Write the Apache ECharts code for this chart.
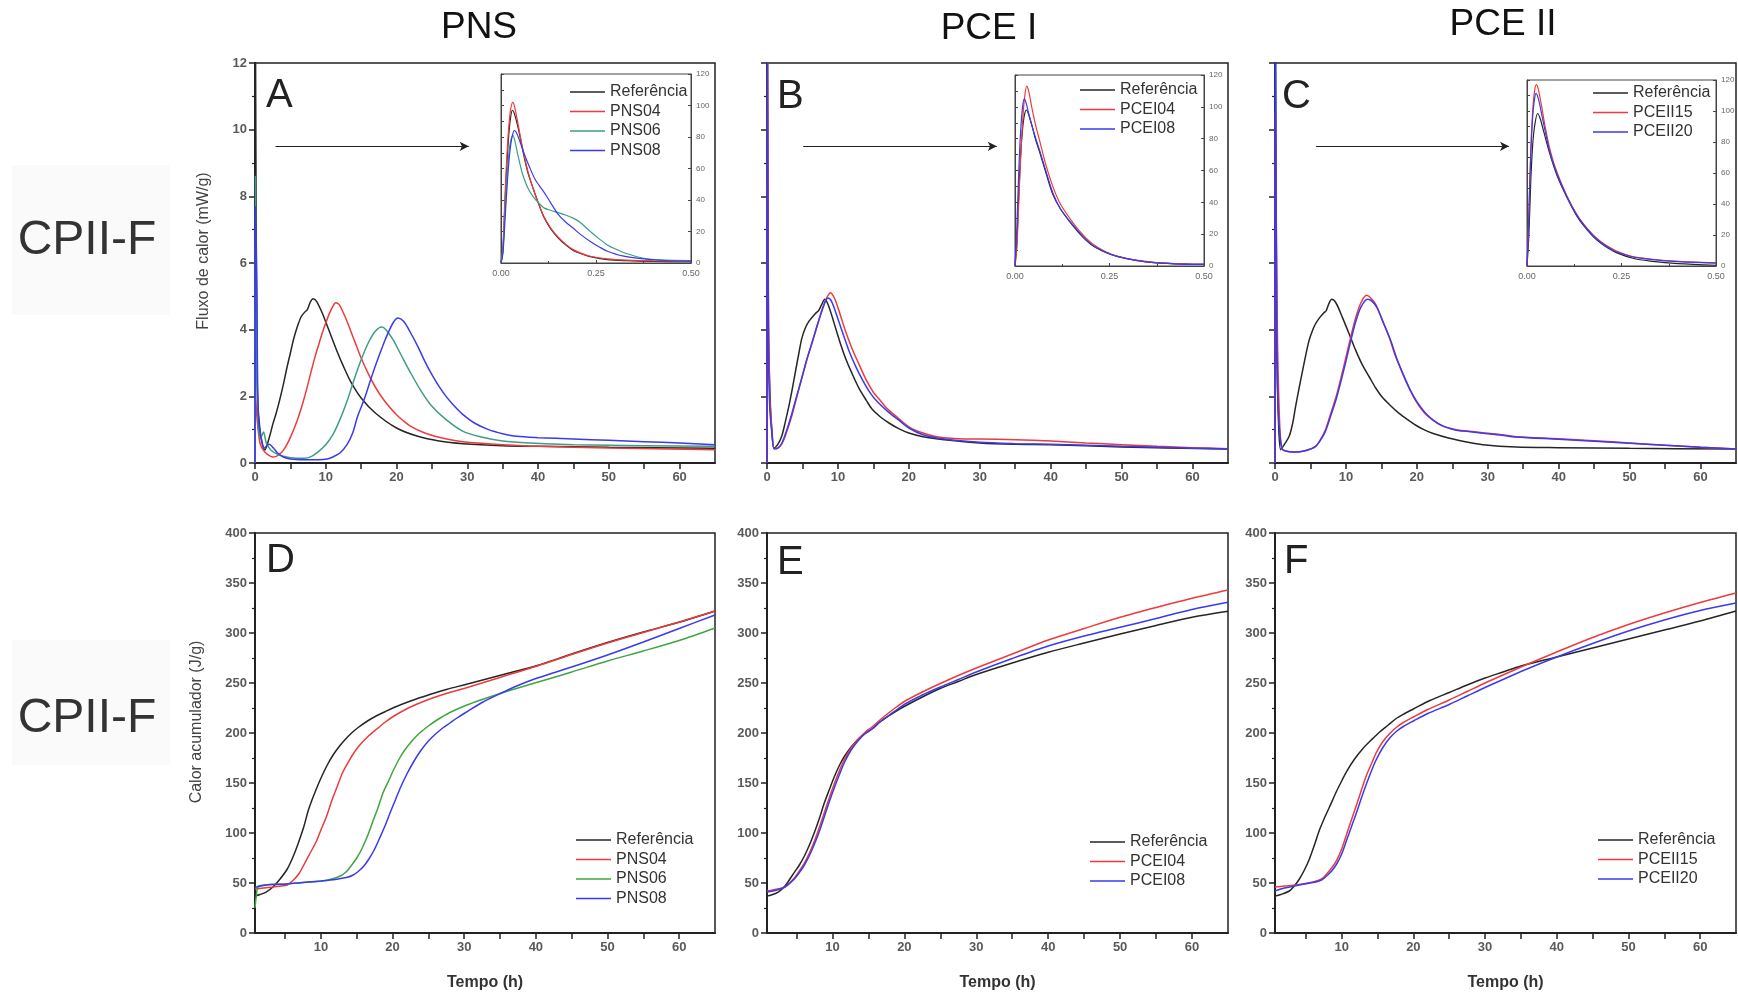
<!DOCTYPE html>
<html><head><meta charset="utf-8">
<script src="https://cdn.jsdelivr.net/npm/echarts@6/dist/echarts.min.js"></script>
<style>html,body{margin:0;padding:0;background:#fff}#c{width:1738px;height:998px}</style>
</head><body><div id="c"></div>
<script>
// ---------- Panel A: heat flow, PNS (t [h], mW/g) ----------
const A_ref   = [[0,0],[0.05,14],[0.3,2.5],[0.7,1.0],[1.4,0.39],[2,0.75],[2.5,1.15],[3,1.5],[3.5,1.9],[4,2.35],[4.5,2.85],[5,3.3],[5.5,3.75],[6,4.1],[6.5,4.38],[7,4.52],[7.4,4.6],[7.8,4.82],[8.2,4.93],[8.7,4.85],[9.5,4.5],[10.5,3.95],[11.5,3.4],[12.5,2.9],[13.5,2.45],[15,1.95],[17,1.5],[20,1.05],[23,0.8],[26,0.66],[29.4,0.58],[35,0.52],[40,0.5],[50,0.47],[65,0.44]];
const A_pns04 = [[0,0],[0.05,2.1],[0.3,1.3],[0.7,0.6],[1.2,0.38],[1.8,0.25],[2.5,0.18],[3,0.2],[3.5,0.27],[4,0.38],[4.5,0.55],[5,0.77],[5.5,1.02],[6,1.3],[6.5,1.62],[7,1.98],[7.5,2.38],[8,2.8],[8.5,3.2],[9,3.55],[9.5,3.9],[10,4.2],[10.5,4.48],[11,4.7],[11.4,4.81],[11.9,4.75],[12.5,4.5],[13,4.25],[14,3.7],[15,3.15],[16,2.68],[17,2.28],[18,1.95],[19,1.68],[20,1.45],[21,1.26],[22,1.1],[24,0.9],[26,0.77],[28,0.68],[30,0.62],[35,0.55],[40,0.5],[50,0.45],[65,0.4]];
const A_pns06 = [[0,0],[0.05,8.6],[0.25,3],[0.5,1.0],[0.8,0.75],[1.2,0.93],[1.6,0.6],[2.2,0.4],[3,0.28],[4,0.2],[5,0.16],[7,0.14],[8,0.2],[9,0.35],[10,0.55],[11,0.85],[12,1.3],[13,1.85],[14,2.5],[15,3.1],[16,3.6],[17,3.95],[17.9,4.08],[18.5,4.0],[19.5,3.7],[20.5,3.3],[22,2.7],[23.5,2.15],[25,1.7],[27,1.3],[29.4,0.95],[32,0.78],[35,0.66],[38.8,0.6],[45,0.55],[55,0.52],[65,0.5]];
const A_pns08 = [[0,0],[0.05,7.7],[0.25,5.3],[0.45,1.5],[0.8,0.8],[1.3,0.45],[2.0,0.56],[2.6,0.45],[3.2,0.3],[4,0.18],[5,0.12],[7,0.1],[9,0.1],[10.2,0.12],[11,0.18],[12,0.3],[13,0.55],[13.8,0.9],[14.5,1.4],[15.5,1.95],[16.5,2.6],[17.5,3.2],[18.5,3.75],[19.5,4.2],[20.2,4.35],[21,4.25],[22,3.9],[23,3.5],[24,3.05],[25,2.65],[26,2.3],[27,2.0],[28,1.75],[29.4,1.45],[31,1.2],[33,1.0],[35,0.88],[37,0.8],[40,0.76],[45,0.72],[50,0.68],[55,0.64],[60,0.6],[65,0.55]];
// inset A (0-0.5 h)
const Ai_ref   = [[0,0],[0.005,8],[0.01,35],[0.015,60],[0.02,80],[0.025,92],[0.03,97],[0.035,95],[0.045,86],[0.056,73],[0.07,58],[0.085,47],[0.1,37],[0.113,29],[0.13,22],[0.15,16],[0.17,11.5],[0.19,8],[0.21,6],[0.235,4],[0.28,2.2],[0.33,1.5],[0.4,1],[0.5,0.8]];
const Ai_pns04 = [[0,0],[0.005,10],[0.01,40],[0.015,66],[0.02,85],[0.025,97],[0.031,102],[0.036,99],[0.045,88],[0.056,74],[0.07,59],[0.085,47],[0.1,37],[0.113,29.5],[0.13,22.5],[0.15,16.5],[0.17,12],[0.19,8.5],[0.21,6.3],[0.235,4.3],[0.28,2.6],[0.33,1.8],[0.4,1.3],[0.5,1]];
const Ai_pns06 = [[0,0],[0.005,8],[0.01,30],[0.015,52],[0.02,68],[0.025,77],[0.031,81],[0.036,78],[0.045,68],[0.056,57],[0.07,48],[0.085,42],[0.1,38],[0.113,35],[0.13,33.5],[0.15,32],[0.17,30.5],[0.19,28.5],[0.207,26],[0.235,20],[0.26,15],[0.28,11.5],[0.3,9],[0.33,6],[0.376,3],[0.42,2],[0.5,1.5]];
const Ai_pns08 = [[0,0],[0.005,6],[0.01,25],[0.015,45],[0.02,62],[0.025,74],[0.03,81],[0.035,84],[0.04,83],[0.05,77],[0.06,70],[0.075,61],[0.09,53],[0.113,45],[0.13,38.5],[0.15,31],[0.17,26],[0.188,22.5],[0.21,18],[0.235,13.7],[0.26,10],[0.28,7.5],[0.32,4.5],[0.376,2.6],[0.43,1.6],[0.5,1.2]];

// ---------- Panel B: heat flow, PCE I ----------
const B_ref    = [[0,0],[0.05,14],[0.2,4],[0.4,2.2],[0.6,1.2],[1,0.44],[1.5,0.55],[2.1,0.82],[2.6,1.25],[3.1,1.72],[3.5,2.15],[4,2.73],[4.5,3.3],[4.9,3.73],[5.4,4.05],[5.9,4.25],[6.4,4.38],[6.8,4.48],[7.3,4.58],[7.7,4.75],[8.15,4.91],[8.7,4.7],[9.7,4.03],[10.4,3.55],[11.1,3.13],[12,2.68],[13,2.23],[14,1.88],[14.8,1.62],[16,1.38],[17.2,1.2],[18.5,1.04],[20,0.9],[22,0.79],[25,0.7],[30,0.6],[35,0.56],[40,0.55],[50,0.48],[65,0.42]];
const B_pcei04 = [[0,0],[0.05,14],[0.2,5],[0.4,2],[0.7,1.0],[1,0.44],[1.5,0.45],[2.1,0.57],[2.8,0.95],[3.5,1.42],[4.2,1.98],[4.9,2.53],[5.6,3.08],[6.4,3.63],[7.1,4.13],[7.8,4.63],[8.4,4.95],[8.95,5.11],[9.5,4.95],[10.1,4.6],[11,4.0],[12,3.43],[13,2.95],[13.9,2.53],[15,2.12],[15.8,1.92],[17,1.62],[18.1,1.42],[19.3,1.2],[20.5,1.02],[22,0.9],[23.3,0.82],[25,0.76],[27,0.73],[30,0.72],[35,0.7],[40,0.66],[45,0.6],[50,0.55],[55,0.5],[60,0.46],[65,0.43]];
const B_pcei08 = [[0,0],[0.05,13],[0.2,3.5],[0.4,1.6],[0.7,0.9],[1,0.42],[1.5,0.44],[2.1,0.6],[2.8,1.0],[3.5,1.48],[4.2,2.02],[4.9,2.55],[5.6,3.1],[6.4,3.65],[7.1,4.15],[7.8,4.6],[8.3,4.88],[8.6,4.95],[9.1,4.85],[9.8,4.45],[10.6,3.95],[11.5,3.4],[12.5,2.9],[13.5,2.48],[14.5,2.12],[15.5,1.85],[17,1.55],[18.5,1.3],[20,1.05],[22,0.85],[25,0.72],[30,0.62],[35,0.58],[40,0.56],[50,0.5],[65,0.42]];
const Bi_ref    = [[0,0],[0.005,15],[0.01,45],[0.015,70],[0.02,86],[0.025,95],[0.03,98],[0.035,96],[0.045,88],[0.055,79],[0.066,71],[0.08,60],[0.1,45],[0.12,36],[0.154,25],[0.18,18],[0.207,12.5],[0.24,8.5],[0.27,6],[0.32,3.5],[0.375,2],[0.45,1.2],[0.5,1]];
const Bi_pcei04 = [[0,0],[0.005,12],[0.01,40],[0.015,68],[0.02,90],[0.025,105],[0.031,113],[0.036,110],[0.045,99],[0.055,88],[0.066,78],[0.08,65],[0.1,50],[0.12,39],[0.154,27],[0.18,19.5],[0.207,13.5],[0.24,9],[0.27,6.3],[0.32,3.7],[0.375,2.2],[0.45,1.4],[0.5,1.2]];
const Bi_pcei08 = [[0,0],[0.005,25],[0.01,60],[0.015,85],[0.02,100],[0.025,105],[0.03,102],[0.036,96],[0.045,88],[0.055,80],[0.066,72],[0.08,61],[0.1,46],[0.12,36],[0.154,25.5],[0.18,18.5],[0.207,12.8],[0.24,8.6],[0.27,6],[0.32,3.5],[0.375,2],[0.45,1.2],[0.5,1]];

// ---------- Panel C: heat flow, PCE II ----------
const C_ref     = [[0,0],[0.05,14],[0.25,3.5],[0.5,1.2],[0.8,0.4],[1.3,0.55],[2,0.8],[2.5,1.2],[2.9,1.69],[3.4,2.25],[3.9,2.78],[4.3,3.2],[4.8,3.67],[5.3,3.98],[5.7,4.17],[6.3,4.36],[6.9,4.51],[7.2,4.56],[7.6,4.78],[8,4.91],[8.6,4.8],[9.5,4.37],[10.5,3.85],[11.4,3.37],[12.3,2.95],[13.3,2.58],[14.2,2.25],[15.1,1.98],[16.3,1.72],[17.5,1.49],[18.7,1.3],[19.8,1.14],[21,1.0],[22.2,0.89],[24.6,0.74],[27,0.63],[29.3,0.55],[34,0.48],[40,0.46],[50,0.44],[65,0.42]];
const C_pceii15 = [[0,0],[0.05,10.5],[0.3,4.4],[0.45,2.6],[0.7,1.0],[1,0.42],[1.5,0.36],[2.5,0.33],[3.5,0.34],[4.5,0.38],[5.7,0.5],[6.4,0.7],[7.1,0.99],[7.8,1.45],[8.6,1.98],[9.3,2.55],[10,3.17],[10.7,3.8],[11.4,4.37],[12.1,4.8],[12.9,5.03],[13.5,4.95],[14.2,4.76],[15.1,4.3],[16.1,3.77],[17,3.2],[18,2.68],[18.9,2.25],[19.8,1.88],[21,1.52],[22.2,1.29],[23.4,1.13],[24.6,1.04],[26,0.98],[27,0.96],[29.3,0.91],[32,0.85],[34,0.79],[40,0.73],[45,0.67],[50,0.6],[55,0.53],[60,0.47],[65,0.42]];
const C_pceii20 = [[0,0],[0.04,14],[0.25,4],[0.45,1.6],[0.7,0.8],[1,0.42],[1.5,0.36],[2.5,0.33],[3.5,0.34],[4.5,0.38],[5.7,0.49],[6.4,0.68],[7.1,0.95],[7.8,1.38],[8.6,1.9],[9.3,2.45],[10,3.05],[10.7,3.68],[11.4,4.25],[12.1,4.67],[13.05,4.91],[13.7,4.85],[14.4,4.65],[15.3,4.2],[16.3,3.68],[17.2,3.12],[18.2,2.6],[19.1,2.18],[20,1.84],[21.2,1.5],[22.4,1.27],[23.6,1.12],[24.8,1.03],[26,0.97],[27,0.95],[29.3,0.89],[32,0.83],[34,0.78],[40,0.71],[45,0.65],[50,0.59],[55,0.53],[60,0.47],[65,0.42]];
const Ci_ref     = [[0,0],[0.005,20],[0.01,55],[0.015,78],[0.02,90],[0.028,98.4],[0.035,95],[0.045,86],[0.062,71],[0.08,58],[0.106,44],[0.13,33],[0.15,26],[0.175,19],[0.194,15],[0.215,11.5],[0.238,8.5],[0.28,5],[0.326,3.2],[0.4,1.5],[0.5,0.5]];
const Ci_pceii15 = [[0,0],[0.005,35],[0.01,75],[0.015,100],[0.02,113],[0.025,117],[0.03,114],[0.038,104],[0.048,90],[0.062,74],[0.08,60],[0.106,45],[0.13,34],[0.15,27],[0.175,20],[0.194,16],[0.215,12.5],[0.238,9.5],[0.28,6],[0.326,4.5],[0.4,3],[0.5,2]];
const Ci_pceii20 = [[0,0],[0.005,33],[0.01,72],[0.015,96],[0.02,108],[0.024,111.4],[0.03,108],[0.038,99],[0.048,87],[0.062,72],[0.08,59],[0.106,44.5],[0.13,33.5],[0.15,26.5],[0.175,19.5],[0.194,15.5],[0.215,12],[0.238,9],[0.28,5.8],[0.326,4.3],[0.4,2.8],[0.5,1.8]];

// ---------- Panel D: cumulative heat, PNS (J/g) ----------
const D_ref   = [[0.8,37],[1.5,38.5],[2.3,40.7],[3.3,46],[4.3,54],[5.3,64],[6.1,76],[6.8,89],[7.6,106],[8.3,124],[9.3,143],[10.2,158],[11,169.5],[11.7,178],[12.5,186],[13.2,192],[14.2,199.5],[15.2,205.5],[16.5,212],[17.7,217],[19,221.5],[20.2,225.5],[22.5,232],[25.2,238.5],[27.5,243.5],[30.2,248.5],[35.2,258],[40.2,267.5],[45,279],[50.1,290.7],[55,301],[60.1,311],[65,322]];
const D_pns04 = [[0.8,44],[2,45],[3.3,46],[4.5,47],[5.3,48],[6.3,54],[7,60],[7.8,70.7],[8.5,80],[9.3,90.7],[10,103],[10.8,117],[11.5,132],[12.3,147],[13,160],[13.8,170.7],[14.5,179],[15.3,187],[16.5,196],[17.8,204],[19,211],[20.2,217],[22.5,226],[25.2,234],[27.5,239.5],[30.2,245],[35.2,256],[40.2,267],[45,278.5],[50,290],[55,300.5],[60,311],[65,322]];
const D_pns06 = [[0.8,25],[1.0,38],[1.3,47],[3,48.5],[5.3,49],[7.5,50.5],[10.2,52],[11.5,54],[12.7,57],[13.5,61],[14.2,67],[15,75],[15.7,84],[16.5,97],[17.2,110.7],[18,126],[18.7,140.7],[19.5,153],[20.2,164],[21,175],[21.7,183],[22.7,192],[23.7,199.5],[25,207],[26.2,213],[28,220.5],[30.2,227.5],[32.5,233.5],[35.2,240],[40.2,250.7],[45,261],[50,272],[55,282],[60,292.5],[65,305]];
const D_pns08 = [[0.8,45.7],[2,47.5],[3,48.5],[5.3,49],[7.5,50.5],[10,52],[12,53.5],[13.7,55.7],[14.5,58],[15.2,61.5],[16,67],[16.7,74],[17.5,84],[18.2,95],[19,108],[19.7,121],[20.5,135],[21.2,147],[22,159],[23,172],[24,183],[25,192],[26,199],[27,205],[28,210],[29,215],[30.2,220.5],[32.5,230.5],[35.2,240],[37.5,247.5],[40.2,255],[45,266],[50,278],[55,291],[60,304.5],[65,318]];

// ---------- Panel E: cumulative heat, PCE I ----------
const E_ref    = [[0.9,37],[1.5,38],[2.4,40.7],[3.4,47],[4.7,60.7],[5.4,68],[6.1,77],[6.8,88],[7.5,100.7],[8.2,115],[8.9,130.7],[9.6,144],[10.3,157],[11,168],[11.7,177],[12.6,186],[13.6,194],[14.5,199.5],[15.5,204],[16.6,211],[17.8,217],[19,222.5],[20.1,227],[22.5,236],[24.8,244],[27.5,251.5],[30,258.5],[35,270],[40,280.7],[45,290],[50,299],[55,307.5],[60,315.7],[65,321.7]];
const E_pcei04 = [[0.9,42],[2,43.5],[3.4,46],[4.7,55],[5.4,62],[6.1,70],[6.8,80],[7.5,92],[8.2,106],[8.9,121],[9.6,136],[10.3,150],[11,163],[11.7,174],[12.6,185],[13.6,194],[14.5,200.5],[15.5,206],[16.6,213],[17.8,220],[19,226.5],[20.1,232],[22.5,241],[25,249.5],[27.5,257.5],[30,265],[35,279],[40,293],[45,304.5],[50,315.7],[55,325.5],[60,334.7],[65,343]];
const E_pcei08 = [[0.9,41],[2,42.5],[3.4,46],[4.7,54],[5.4,60.5],[6.1,68],[6.8,77.5],[7.5,89],[8.2,102],[8.9,117],[9.6,132],[10.3,146],[11,159],[11.7,171],[12.6,183],[13.6,192.5],[14.5,199],[15.5,204],[16.6,211],[17.8,217.5],[19,223.5],[20.1,229],[22.5,238],[25,246],[27.5,253.5],[30,261],[35,274.5],[40,287],[45,297],[50,305.7],[55,314.5],[60,323.5],[65,330.7]];

// ---------- Panel F: cumulative heat, PCE II ----------
const F_ref     = [[0.7,37],[1.5,38.5],[2.7,42],[3.4,47],[4.1,54],[4.8,63],[5.5,74],[6.2,88],[6.9,103],[7.6,115],[8.3,126],[9.3,142],[10,152],[10.7,161.7],[11.8,174],[13,184.8],[14.2,193.5],[15.3,201],[16.5,208],[17.6,214.5],[18.8,219.5],[20,224],[22.3,232.5],[25,240.5],[27.5,248],[30,255],[32.5,261],[35,267],[40,276],[45,285],[50,294],[55,303],[60,312],[65,322]];
const F_pceii15 = [[0.7,46],[2,47],[3.7,48],[6,51],[7.2,54],[7.9,59],[8.6,65],[9.3,72.6],[10,84],[10.7,99],[11.4,114],[12.1,128.7],[12.8,144],[13.5,158.4],[14.2,170],[14.8,180],[15.7,191],[16.7,199.5],[17.7,206],[18.6,210.5],[20,216],[22,223.5],[25,233],[27.5,241.5],[30,250],[32.5,258],[35,266],[40,281],[45,295.5],[50,308.5],[55,320],[60,330.5],[65,340]];
const F_pceii20 = [[0.7,42],[2,45],[3.7,47.5],[6,50.5],[7.2,53],[7.9,57],[8.6,62],[9.3,69],[10,79],[10.7,93],[11.4,107],[12.1,121],[12.8,136],[13.5,150],[14.2,163],[14.8,173],[15.7,185],[16.7,195],[17.7,202],[18.6,206.5],[20,212],[22,219.5],[25,228.5],[27.5,237],[30,245.5],[32.5,253.5],[35,261.5],[40,276],[45,289.5],[50,302],[55,313],[60,322.5],[65,330]];

// arrows pointing to insets: [x start, x end, y] in data units
const arrowA = [2.9, 30.2, 9.5];
const arrowB = [5.1, 32.4, 9.5];
const arrowC = [5.8, 33.0, 9.5];

// tick values
const xTicksTop = [0,5,10,15,20,25,30,35,40,45,50,55,60];
const xLabelsTop = [0,10,20,30,40,50,60];
const xTicksBot = [5,10,15,20,25,30,35,40,45,50,55,60];
const xLabelsBot = [10,20,30,40,50,60];

// ---------- styling / layout ----------
const FONT = '"Liberation Sans", Arial, Helvetica, sans-serif';
const COL = {ref:'#262626', red:'#ee3a3a', teal:'#3e9c88', green:'#3fa63f', blue:'#3a3aee'};
const AX = '#222';

const mainGrids = [
  {left:255, top:63, width:460, height:400},
  {left:767, top:63, width:461, height:400},
  {left:1275, top:63, width:461, height:400},
  {left:255, top:533, width:460, height:400},
  {left:767, top:533, width:461, height:400},
  {left:1275, top:533, width:461, height:400}
];
const insetGrids = [
  {left:501, top:74, width:190, height:189},
  {left:1015, top:75, width:189, height:191},
  {left:1527, top:80, width:189, height:186}
];

const grid = [];
mainGrids.forEach(g => grid.push(Object.assign({show:true, borderColor:AX, borderWidth:1.5, backgroundColor:'transparent', containLabel:false, outerBoundsMode:'none'}, g)));
insetGrids.forEach(g => grid.push(Object.assign({show:true, borderColor:'#444', borderWidth:1, backgroundColor:'#fff', containLabel:false, outerBoundsMode:'none'}, g)));

const tickLabel = {color:'#5a5a5a', fontSize:13, fontWeight:'bold', fontFamily:FONT};
const xAxis = [], yAxis = [];
const xMins = [0,0,0,0.8,0.9,0.7];
for (let p = 0; p < 6; p++) {
  const top = p < 3;
  xAxis.push({
    type:'value', gridIndex:p, min:xMins[p], max:65, position:'bottom',
    axisLine:{show:true, onZero:false, lineStyle:{color:AX, width:2}},
    axisTick:{show:true, customValues: top ? xTicksTop : xTicksBot, length:6, lineStyle:{color:AX, width:1.5}},
    axisLabel:Object.assign({show:true, customValues: top ? xLabelsTop : xLabelsBot, margin:8}, tickLabel),
    splitLine:{show:false},
    name: top ? '' : 'Tempo (h)', nameLocation:'middle', nameGap:42,
    nameTextStyle:{fontSize:16, fontWeight:'bold', color:'#333', fontFamily:FONT}
  });
  xAxis.push({
    type:'value', gridIndex:p, min:xMins[p], max:65, position:'top',
    axisLine:{show:false}, axisLabel:{show:false}, splitLine:{show:false},
    axisTick:{show:true, inside:true, customValues: top ? xTicksTop : xTicksBot, length:5, lineStyle:{color:AX, width:1.5}}
  });
}
for (let p = 0; p < 6; p++) {
  const top = p < 3;
  yAxis.push({
    type:'value', gridIndex:p, min:0, max: top ? 12 : 400, interval: top ? 2 : 50, position:'left',
    axisLine:{show:true, onZero:false, lineStyle:{color:AX, width:2}},
    axisTick:{show:true, length:6, lineStyle:{color:AX, width:1.5}},
    minorTick:{show:true, splitNumber:2, length:3, lineStyle:{color:AX, width:1.2}},
    axisLabel:Object.assign({show: (p === 0 || !top), margin:8}, tickLabel),
    splitLine:{show:false}, minorSplitLine:{show:false}
  });
}
const insetLabel = {color:'#666', fontFamily:FONT};
for (let i = 0; i < 3; i++) {
  xAxis.push({
    type:'value', gridIndex:6+i, min:0, max:0.5, interval:0.25, position:'bottom',
    axisLine:{show:true, onZero:false, lineStyle:{color:'#444', width:1}},
    axisTick:{show:true, inside:true, length:3, lineStyle:{color:'#444'}},
    minorTick:{show:true, splitNumber:2, length:2, lineStyle:{color:'#444'}},
    axisLabel:Object.assign({fontSize:9, margin:6, formatter:v => v.toFixed(2)}, insetLabel),
    splitLine:{show:false}
  });
}
for (let i = 0; i < 3; i++) {
  yAxis.push({
    type:'value', gridIndex:6+i, min:0, max:120, interval:20, position:'right',
    axisLine:{show:true, onZero:false, lineStyle:{color:'#444', width:1}},
    axisTick:{show:true, inside:true, length:3, lineStyle:{color:'#444'}},
    axisLabel:Object.assign({fontSize:8, margin:5}, insetLabel),
    splitLine:{show:false}
  });
}
for (let i = 0; i < 3; i++) {
  yAxis.push({
    type:'value', gridIndex:6+i, min:0, max:120, interval:10, position:'left',
    axisLine:{show:true, onZero:false, lineStyle:{color:'#444', width:1}},
    axisTick:{show:true, inside:true, length:3, lineStyle:{color:'#444'}},
    axisLabel:{show:false}, splitLine:{show:false}
  });
}

function line(name, data, color, xi, yi, w, extra) {
  return Object.assign({
    type:'line', name, data, xAxisIndex:xi, yAxisIndex:yi,
    symbol:'none', smooth:0.3, clip:true, silent:true, animation:false,
    lineStyle:{color, width:w || 1.5}, itemStyle:{color}, z:3
  }, extra || {});
}
function arrow(a) {
  return {markLine:{silent:true, animation:false, symbol:['none','arrow'], symbolSize:[7,9],
    label:{show:false}, lineStyle:{color:'#222', width:1.2, type:'solid'},
    data:[[{coord:[a[0], a[2]]}, {coord:[a[1], a[2]]}]]}};
}

const series = [
  line('Referência', A_ref, COL.ref, 0, 0, 1.5, arrow(arrowA)),
  line('PNS04', A_pns04, COL.red, 0, 0),
  line('PNS06', A_pns06, COL.teal, 0, 0),
  line('PNS08', A_pns08, COL.blue, 0, 0),
  line('Referência', B_ref, COL.ref, 2, 1, 1.5, arrow(arrowB)),
  line('PCEI04', B_pcei04, COL.red, 2, 1),
  line('PCEI08', B_pcei08, COL.blue, 2, 1),
  line('Referência', C_ref, COL.ref, 4, 2, 1.5, arrow(arrowC)),
  line('PCEII15', C_pceii15, COL.red, 4, 2),
  line('PCEII20', C_pceii20, COL.blue, 4, 2),
  line('Referência', D_ref, COL.ref, 6, 3),
  line('PNS04', D_pns04, COL.red, 6, 3),
  line('PNS06', D_pns06, COL.green, 6, 3),
  line('PNS08', D_pns08, COL.blue, 6, 3),
  line('Referência', E_ref, COL.ref, 8, 4),
  line('PCEI04', E_pcei04, COL.red, 8, 4),
  line('PCEI08', E_pcei08, COL.blue, 8, 4),
  line('Referência', F_ref, COL.ref, 10, 5),
  line('PCEII15', F_pceii15, COL.red, 10, 5),
  line('PCEII20', F_pceii20, COL.blue, 10, 5),
  line('Referência', Ai_ref, COL.ref, 12, 9, 1.2),
  line('PNS04', Ai_pns04, COL.red, 12, 9, 1.2),
  line('PNS06', Ai_pns06, COL.teal, 12, 9, 1.2),
  line('PNS08', Ai_pns08, COL.blue, 12, 9, 1.2),
  line('Referência', Bi_ref, COL.ref, 13, 10, 1.2),
  line('PCEI04', Bi_pcei04, COL.red, 13, 10, 1.2),
  line('PCEI08', Bi_pcei08, COL.blue, 13, 10, 1.2),
  line('Referência', Ci_ref, COL.ref, 14, 11, 1.2),
  line('PCEII15', Ci_pceii15, COL.red, 14, 11, 1.2),
  line('PCEII20', Ci_pceii20, COL.blue, 14, 11, 1.2)
];

function lg(items, left, top) {
  return {orient:'vertical', left, top, padding:0, itemWidth:35, itemHeight:1.6, itemGap:3.5,
    selectedMode:false, align:'left',
    textStyle:{fontSize:16, color:'#333', fontFamily:FONT, lineHeight:16},
    data:items};
}
function li(name, color) { return {name, icon:'rect', itemStyle:{color, borderWidth:0}, lineStyle:{color, width:0}}; }
const legend = [
  lg([li('Referência',COL.ref), li('PNS04',COL.red), li('PNS06',COL.teal), li('PNS08',COL.blue)], 570, 84),
  lg([li('Referência',COL.ref), li('PCEI04',COL.red), li('PCEI08',COL.blue)], 1080, 82),
  lg([li('Referência',COL.ref), li('PCEII15',COL.red), li('PCEII20',COL.blue)], 1593, 85),
  lg([li('Referência',COL.ref), li('PNS04',COL.red), li('PNS06',COL.green), li('PNS08',COL.blue)], 576, 832),
  lg([li('Referência',COL.ref), li('PCEI04',COL.red), li('PCEI08',COL.blue)], 1090, 834),
  lg([li('Referência',COL.ref), li('PCEII15',COL.red), li('PCEII20',COL.blue)], 1598, 832)
];

function txt(text, x, y, size, color, opts) {
  return Object.assign({type:'text', x, y, silent:true, z:10,
    style:{text, font: size + 'px ' + FONT, fill:color, align:'center', verticalAlign:'middle',
      textAlign:'center', textVerticalAlign:'middle'}}, opts || {});
}
function ltxt(text, x, y) {
  const t = txt(text, x, y, 40, '#222');
  t.style.align = 'left'; t.style.textAlign = 'left';
  return t;
}
const graphic = [
  {type:'rect', shape:{x:12, y:165, width:158, height:150}, style:{fill:'#fafafa'}, z:-10, silent:true},
  {type:'rect', shape:{x:12, y:640, width:158, height:125}, style:{fill:'#fafafa'}, z:-10, silent:true},
  txt('PNS', 479, 28, 37, '#111'),
  txt('PCE I', 989, 29, 37, '#111'),
  txt('PCE II', 1503, 25, 37, '#111'),
  txt('CPII-F', 87, 241, 48, '#333'),
  txt('CPII-F', 87, 719, 48, '#333'),
  txt('Fluxo de calor (mW/g)', 204, 251, 16, '#444', {rotation: Math.PI/2}),
  txt('Calor acumulador (J/g)', 197, 722, 16, '#444', {rotation: Math.PI/2}),
  ltxt('A', 266, 96), ltxt('B', 777, 97), ltxt('C', 1282, 97),
  ltxt('D', 266, 561), ltxt('E', 777, 563), ltxt('F', 1284, 562)
];

const chart = echarts.init(document.getElementById('c'), null, {renderer:'canvas'});
chart.setOption({
  animation:false,
  backgroundColor:'#ffffff',
  textStyle:{fontFamily:FONT},
  grid, xAxis, yAxis, series, legend, graphic
});
</script></body></html>
